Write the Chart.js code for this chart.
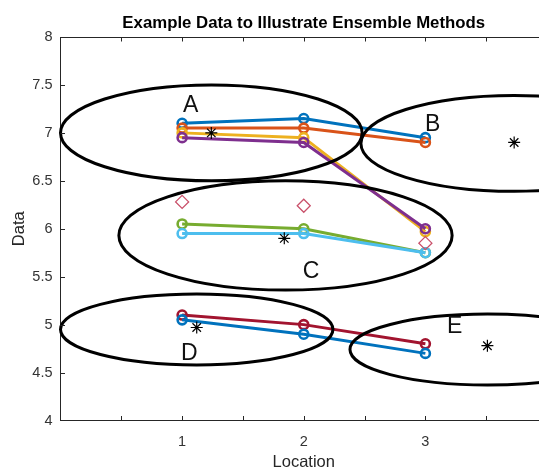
<!DOCTYPE html>
<html>
<head>
<meta charset="utf-8">
<script src="https://cdn.jsdelivr.net/npm/chart.js@4.4.1/dist/chart.umd.min.js"></script>
<style>
html,body{margin:0;padding:0;background:#fff;overflow:hidden;}
canvas{display:block;}
</style>
</head>
<body>
<canvas id="c" width="560" height="469"></canvas>
<script>
// ---- data ----
const locations = [1, 2, 3];
const seriesA1 = [7.10, 7.15, 6.95];   // blue
const seriesA2 = [7.05, 7.05, 6.90];   // orange
const seriesA3 = [7.00, 6.95, 5.97];   // yellow
const seriesA4 = [6.95, 6.90, 6.00];   // purple
const seriesC1 = [6.05, 6.00, 5.75];   // green
const seriesC2 = [5.95, 5.95, 5.75];   // light blue
const seriesD1 = [5.10, 5.00, 4.80];   // dark red
const seriesD2 = [5.05, 4.90, 4.70];   // blue
const diamondValues = [6.28, 6.24, 5.85];

const centerX = [1.24, 3.73, 1.84, 1.12, 3.51];
const centerY = [7.00, 6.90, 5.90, 4.97, 4.78];

const clusterNames = ['A', 'B', 'C', 'D', 'E'];
const ellipseX = [1.24, 3.73, 1.85, 1.12, 3.51];
const ellipseY = [7.00, 6.89, 5.93, 4.95, 4.74];
const ellipseRX = [1.24, 1.26, 1.37, 1.12, 1.13];
const ellipseRY = [0.50, 0.50, 0.57, 0.37, 0.37];
const labelX = [1.07, 3.06, 2.06, 1.06, 3.24];
const labelY = [7.28, 7.09, 5.55, 4.70, 4.98];

const xTickLabels = ['1', '2', '3'];
const yTickValues = [4, 4.5, 5, 5.5, 6, 6.5, 7, 7.5, 8];

const pts = (ys) => locations.map((x, i) => ({x: x, y: ys[i]}));

const lineSeries = [
  {d: seriesA1, c: '#0072BD'},
  {d: seriesA2, c: '#D95319'},
  {d: seriesA3, c: '#EDB120'},
  {d: seriesA4, c: '#7E2F8E'},
  {d: seriesC1, c: '#77AC30'},
  {d: seriesC2, c: '#4DBEEE'},
  {d: seriesD1, c: '#A2142F'},
  {d: seriesD2, c: '#0072BD'}
];

const datasets = lineSeries.map((s, i) => ({
  type: 'line',
  data: pts(s.d),
  borderColor: s.c,
  backgroundColor: '#ffffff',
  pointBorderColor: s.c,
  pointBackgroundColor: 'rgba(255,255,255,0)',
  borderWidth: 3,
  pointRadius: 4.5,
  pointBorderWidth: 2.6,
  pointStyle: 'circle',
  tension: 0,
  fill: false,
  order: 20 - i
}));

datasets.push({
  type: 'scatter',
  data: pts(diamondValues),
  pointStyle: 'rectRot',
  pointRadius: 6.5,
  borderColor: '#C9506A',
  pointBorderColor: '#C9506A',
  backgroundColor: 'rgba(255,255,255,0)',
  pointBorderWidth: 1.3,
  showLine: false,
  order: 5
});

datasets.push({
  type: 'scatter',
  data: centerX.map((x, i) => ({x: x, y: centerY[i]})),
  pointStyle: 'star',
  pointRadius: 6,
  borderColor: '#000',
  pointBorderColor: '#000',
  pointBorderWidth: 1.2,
  showLine: false,
  order: 4
});

const axisColor = '#262626';

const decor = {
  id: 'decor',
  afterDatasetsDraw(chart) {
    const ctx = chart.ctx;
    const xs = chart.scales.x, ys = chart.scales.y;
    ctx.save();
    // ellipses
    ctx.strokeStyle = '#000';
    ctx.lineWidth = 3;
    for (let i = 0; i < ellipseX.length; i++) {
      const cx = xs.getPixelForValue(ellipseX[i]);
      const cy = ys.getPixelForValue(ellipseY[i]);
      const rx = Math.abs(xs.getPixelForValue(ellipseX[i] + ellipseRX[i]) - cx);
      const ry = Math.abs(ys.getPixelForValue(ellipseY[i] + ellipseRY[i]) - cy);
      ctx.beginPath();
      ctx.ellipse(cx, cy, rx, ry, 0, 0, Math.PI * 2);
      ctx.stroke();
    }
    // cluster letters
    ctx.fillStyle = '#111';
    ctx.font = '23px "Liberation Sans", Arial, sans-serif';
    ctx.textAlign = 'center';
    ctx.textBaseline = 'middle';
    for (let i = 0; i < clusterNames.length; i++) {
      ctx.fillText(clusterNames[i], xs.getPixelForValue(labelX[i]), ys.getPixelForValue(labelY[i]));
    }
    ctx.restore();
  },
  afterDraw(chart) {
    const ctx = chart.ctx;
    const xs = chart.scales.x, ys = chart.scales.y;
    const a = chart.chartArea;
    ctx.save();
    ctx.strokeStyle = axisColor;
    ctx.lineWidth = 1;
    // box top & right
    ctx.beginPath();
    ctx.moveTo(a.left, Math.round(a.top) + 0.5);
    ctx.lineTo(a.right, Math.round(a.top) + 0.5);
    ctx.moveTo(Math.round(a.right) + 0.5, a.top);
    ctx.lineTo(Math.round(a.right) + 0.5, a.bottom);
    ctx.stroke();
    // inward ticks
    const tl = 4.5;
    ctx.beginPath();
    for (let v = 0.5; v < 4; v += 0.5) {
      const px = Math.round(xs.getPixelForValue(v)) + 0.5;
      ctx.moveTo(px, a.bottom); ctx.lineTo(px, a.bottom - tl);
      ctx.moveTo(px, a.top); ctx.lineTo(px, a.top + tl);
    }
    for (const v of yTickValues) {
      if (v === 4 || v === 8) continue;
      const py = Math.round(ys.getPixelForValue(v)) + 0.5;
      ctx.moveTo(a.left, py); ctx.lineTo(a.left + tl, py);
      ctx.moveTo(a.right, py); ctx.lineTo(a.right - tl, py);
    }
    ctx.stroke();
    // title
    ctx.fillStyle = '#000';
    ctx.textAlign = 'center';
    ctx.textBaseline = 'alphabetic';
    ctx.font = 'bold 16.8px "Liberation Sans", Arial, sans-serif';
    ctx.fillText('Example Data to Illustrate Ensemble Methods', (a.left + a.right) / 2, 28);
    // axis titles
    ctx.fillStyle = axisColor;
    ctx.font = '16.5px "Liberation Sans", Arial, sans-serif';
    ctx.fillText('Location', (a.left + a.right) / 2, 467);
    ctx.save();
    ctx.translate(24, (a.top + a.bottom) / 2);
    ctx.rotate(-Math.PI / 2);
    ctx.fillText('Data', 0, 0);
    ctx.restore();
    ctx.restore();
  }
};

new Chart(document.getElementById('c'), {
  type: 'line',
  data: { datasets: datasets },
  options: {
    responsive: false,
    animation: false,
    devicePixelRatio: 1,
    layout: { padding: { top: 37, right: 12, left: 0, bottom: 0 } },
    plugins: { legend: { display: false }, tooltip: { enabled: false }, title: { display: false } },
    scales: {
      x: {
        type: 'linear', min: 0, max: 4,
        afterFit(s) { s.height = 48.5; },
        grid: { display: true, drawOnChartArea: false, drawTicks: false },
        border: { display: true, color: axisColor, width: 1 },
        ticks: {
          stepSize: 0.5, padding: 13, color: '#333',
          font: { family: '"Liberation Sans", Arial, sans-serif', size: 14.5 },
          autoSkip: false, maxRotation: 0,
          callback: (v) => (Number.isInteger(v) && v >= 1 && v <= 3) ? xTickLabels[v - 1] : ''
        }
      },
      y: {
        type: 'linear', min: 4, max: 8,
        afterFit(s) { s.width = 60.5; },
        grid: { display: true, drawOnChartArea: false, drawTicks: false },
        border: { display: true, color: axisColor, width: 1 },
        ticks: {
          stepSize: 0.5, padding: 8, color: '#333',
          font: { family: '"Liberation Sans", Arial, sans-serif', size: 14.5 },
          callback: (v) => String(v)
        }
      }
    }
  },
  plugins: [decor]
});
</script>
</body>
</html>
